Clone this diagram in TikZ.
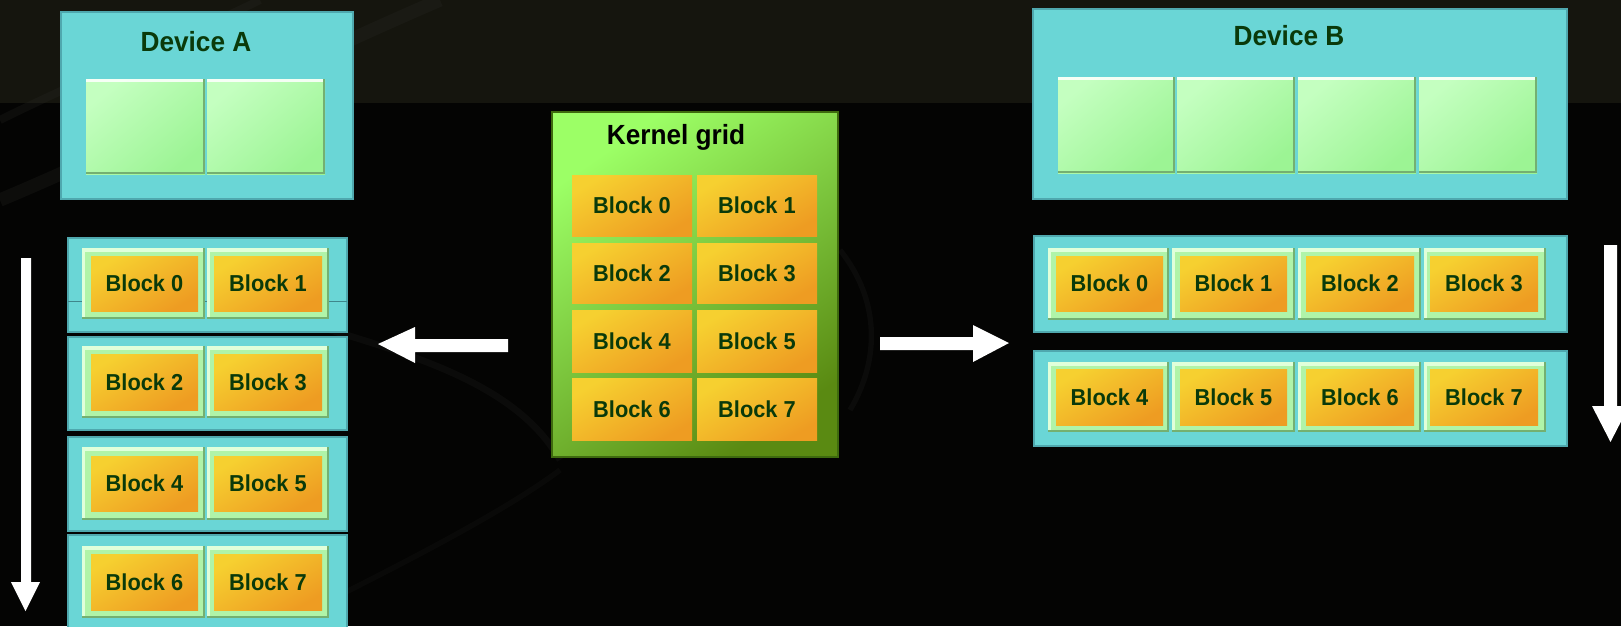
\documentclass[tikz,border=0pt]{standalone}
\usepackage{fontspec}
\setmainfont[FakeStretch=0.945]{Liberation Sans}
\definecolor{bgTop}{HTML}{15150E}
\definecolor{bgBot}{HTML}{040403}
\definecolor{cyanC}{HTML}{6AD6D6}
\definecolor{cyanD}{HTML}{4FA8AE}
\definecolor{smA}{HTML}{C4FFC0}
\definecolor{smB}{HTML}{9CF494}
\definecolor{smD}{HTML}{74B071}
\definecolor{frC}{HTML}{B0F4A8}
\definecolor{frL}{HTML}{E0FFDA}
\definecolor{orA}{HTML}{F6D030}
\definecolor{orB}{HTML}{EE9C22}
\definecolor{kgA}{HTML}{9CFF66}
\definecolor{kgB}{HTML}{5A8A12}
\definecolor{kgD}{HTML}{3E6A0E}
\definecolor{txt}{HTML}{0A3A0A}
\definecolor{swoosh}{HTML}{2A2A26}
\newcommand\bx[7]{\node[#6, minimum width={(#4-#2)*0.75pt}, minimum height={(#5-#3)*0.75pt}] (#1) at ({(#2+#4)/2},{(#3+#5)/2}) {#7};}
\tikzset{
  base/.style={inner sep=0pt, outer sep=0pt, rectangle},
  cyanbox/.style={base, fill=cyanC, draw=cyanD, line width=0.8pt},
  smbox/.style={base, top color=smA, bottom color=smB, shading angle=40,
    path picture={
      \fill[white,opacity=0.85] (path picture bounding box.north west) rectangle ([yshift=-2.5pt]path picture bounding box.north east);
      \fill[smD] (path picture bounding box.south west) rectangle ([yshift=1.8pt]path picture bounding box.south east);
      \fill[smD] ([xshift=-1.8pt]path picture bounding box.north east) rectangle (path picture bounding box.south east);
    }},
  frbox/.style={base, fill=frC,
    path picture={
      \fill[frL] (path picture bounding box.north west) rectangle ([yshift=-3pt]path picture bounding box.north east);
      \fill[frL] (path picture bounding box.north west) rectangle ([xshift=2pt]path picture bounding box.south west);
      \fill[smD] (path picture bounding box.south west) rectangle ([yshift=1.5pt]path picture bounding box.south east);
      \fill[smD] ([xshift=-1.5pt]path picture bounding box.north east) rectangle (path picture bounding box.south east);
    }},
  orbox/.style={base, top color=orA, bottom color=orB, shading angle=30,
    text=txt, font=\bfseries\fontsize{17.3}{19}\selectfont},
  title/.style={inner sep=0pt, text=txt, font=\bfseries\fontsize{20.8}{23}\selectfont},
  arrowfill/.style={fill=white},
}
\begin{document}
\begin{tikzpicture}[x=0.75pt,y=-0.75pt]
\useasboundingbox (0,0) rectangle (1621,626);
% background
\fill[bgBot] (0,0) rectangle (1621,626);
\fill[bgTop] (0,0) rectangle (1621,103);
\begin{scope}
\clip (0,0) rectangle (1621,626);
\draw[swoosh, line width=10pt, opacity=0.25] (0,200) .. controls (120,150) and (300,60) .. (440,0);
\draw[swoosh, line width=6pt, opacity=0.25] (0,120) .. controls (80,80) and (200,30) .. (260,0);
\draw[swoosh, line width=5pt, opacity=0.2] (330,330) .. controls (430,360) and (520,390) .. (560,460);
\draw[swoosh, line width=4pt, opacity=0.2] (840,250) .. controls (880,300) and (880,360) .. (850,410);
\draw[swoosh, line width=4pt, opacity=0.15] (330,600) .. controls (450,540) and (520,500) .. (560,470);
\end{scope}

% ---------- Device A ----------
\bx{devA}{61}{12}{353}{199}{cyanbox}{}
\node[title] (devAt) at (196,42) {Device A};
\bx{aS0}{86}{79}{205}{174}{smbox}{}
\bx{aS1}{207}{79}{325}{174}{smbox}{}

% left rows
\bx{aR0}{68}{238}{347}{332}{cyanbox}{}
\bx{aR1}{68}{337}{347}{430}{cyanbox}{}
\bx{aR2}{68}{437}{347}{531}{cyanbox}{}
\bx{aR3}{68}{535}{347}{640}{cyanbox}{}
\draw[cyanD!80!black, line width=0.6pt] (aR0.west |- 0,301) -- (aR0.east |- 0,301);

\bx{aF0}{82}{248}{205}{319}{frbox}{}
\bx{aF1}{207}{248}{329}{319}{frbox}{}
\bx{aF2}{82}{346}{205}{418}{frbox}{}
\bx{aF3}{207}{346}{329}{418}{frbox}{}
\bx{aF4}{82}{447}{205}{520}{frbox}{}
\bx{aF5}{207}{447}{329}{520}{frbox}{}
\bx{aF6}{82}{546}{205}{618}{frbox}{}
\bx{aF7}{207}{546}{329}{618}{frbox}{}

\bx{aB0}{91}{256}{198}{311}{orbox}{Block 0}
\bx{aB1}{214}{256}{322}{311}{orbox}{Block 1}
\bx{aB2}{91}{354}{198}{410}{orbox}{Block 2}
\bx{aB3}{214}{354}{322}{410}{orbox}{Block 3}
\bx{aB4}{91}{456}{198}{511}{orbox}{Block 4}
\bx{aB5}{214}{456}{322}{511}{orbox}{Block 5}
\bx{aB6}{91}{554}{198}{610}{orbox}{Block 6}
\bx{aB7}{214}{554}{322}{610}{orbox}{Block 7}

% left vertical arrow
\fill[arrowfill] (21,258) -- (31,258) -- (31,582) -- (40,582) -- (25.5,611) -- (11,582) -- (21,582) -- cycle;

% ---------- Kernel grid ----------
\bx{kg}{552}{112}{838}{457}{base, top color=kgA, bottom color=kgB, shading angle=35, draw=kgD, line width=1.5pt}{}
\node[inner sep=0pt, text=black, font=\bfseries\fontsize{20.8}{23}\selectfont] (kgt) at (676,137) {Kernel grid};
\bx{kB0}{572}{175}{692}{236}{orbox}{Block 0}
\bx{kB1}{697}{175}{817}{236}{orbox}{Block 1}
\bx{kB2}{572}{243}{692}{303}{orbox}{Block 2}
\bx{kB3}{697}{243}{817}{303}{orbox}{Block 3}
\bx{kB4}{572}{310}{692}{372}{orbox}{Block 4}
\bx{kB5}{697}{310}{817}{372}{orbox}{Block 5}
\bx{kB6}{572}{378}{692}{440}{orbox}{Block 6}
\bx{kB7}{697}{378}{817}{440}{orbox}{Block 7}

% middle arrows
\fill[arrowfill] (508,339) -- (415,339) -- (415,327) -- (378,344) -- (415,363) -- (415,352) -- (508,352) -- cycle;
\fill[arrowfill] (880,337) -- (973,337) -- (973,325) -- (1009,343) -- (973,362) -- (973,350) -- (880,350) -- cycle;

% ---------- Device B ----------
\bx{devB}{1033}{9}{1567}{199}{cyanbox}{}
\node[title] (devBt) at (1289,36) {Device B};
\bx{bS0}{1058}{77}{1175}{173}{smbox}{}
\bx{bS1}{1177}{77}{1295}{173}{smbox}{}
\bx{bS2}{1298}{77}{1416}{173}{smbox}{}
\bx{bS3}{1419}{77}{1537}{173}{smbox}{}

\bx{bR0}{1034}{236}{1567}{332}{cyanbox}{}
\bx{bR1}{1034}{351}{1567}{446}{cyanbox}{}

\bx{bF0}{1048}{248}{1169}{320}{frbox}{}
\bx{bF1}{1172}{248}{1295}{320}{frbox}{}
\bx{bF2}{1298}{248}{1421}{320}{frbox}{}
\bx{bF3}{1424}{248}{1546}{320}{frbox}{}
\bx{bF4}{1048}{362}{1169}{432}{frbox}{}
\bx{bF5}{1172}{362}{1295}{432}{frbox}{}
\bx{bF6}{1298}{362}{1421}{432}{frbox}{}
\bx{bF7}{1424}{362}{1546}{432}{frbox}{}

\bx{bB0}{1056}{256}{1163}{311}{orbox}{Block 0}
\bx{bB1}{1180}{256}{1287}{311}{orbox}{Block 1}
\bx{bB2}{1306}{256}{1414}{311}{orbox}{Block 2}
\bx{bB3}{1430}{256}{1538}{311}{orbox}{Block 3}
\bx{bB4}{1056}{369}{1163}{425}{orbox}{Block 4}
\bx{bB5}{1180}{369}{1287}{425}{orbox}{Block 5}
\bx{bB6}{1306}{369}{1414}{425}{orbox}{Block 6}
\bx{bB7}{1430}{369}{1538}{425}{orbox}{Block 7}

% right vertical arrow
\fill[arrowfill] (1604,245) -- (1617,245) -- (1617,406) -- (1629,406) -- (1610.5,442) -- (1592,406) -- (1604,406) -- cycle;
\end{tikzpicture}
\end{document}
